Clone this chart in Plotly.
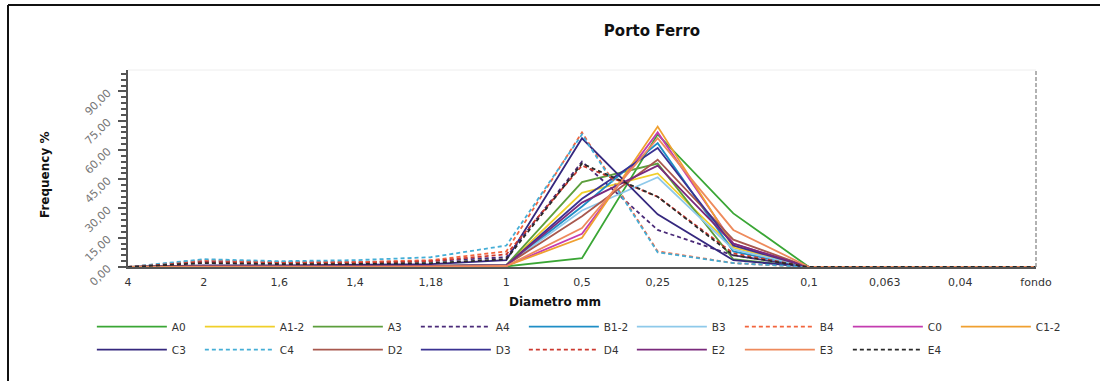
import plotly.graph_objects as go

categories = ["4", "2", "1,6", "1,4", "1,18", "1", "0,5", "0,25", "0,125", "0,1", "0,063", "0,04", "fondo"]

series_names = ["A0", "A1-2", "A3", "A4", "B1-2", "B3", "B4", "C0", "C1-2",
                "C3", "C4", "D2", "D3", "D4", "E2", "E3", "E4"]

A0   = [0, 0.2, 0.2, 0.2, 0.2, 0.3, 4.5, 68, 27.5, 0, 0, 0, 0]
A1_2 = [0, 0.5, 0.5, 0.5, 0.6, 1.0, 38, 48, 10, 0, 0, 0, 0]
A3   = [0, 0.5, 0.5, 0.5, 0.6, 1.0, 43.5, 53, 4, 0, 0, 0, 0]
A4   = [0, 3.0, 2.5, 2.5, 3.0, 5.0, 54, 19, 6, 0, 0, 0, 0]
B1_2 = [0, 0.3, 0.3, 0.3, 0.4, 0.8, 31, 63.5, 8, 0, 0, 0, 0]
B3   = [0, 0.5, 0.5, 0.5, 0.6, 1.0, 29, 46, 9, 0, 0, 0, 0]
B4   = [0, 3.5, 2.5, 2.5, 3.5, 8.0, 69, 8, 2, 0, 0, 0, 0]
C0   = [0, 0.3, 0.3, 0.3, 0.3, 0.5, 17, 69, 12, 0, 0, 0, 0]
C1_2 = [0, 0.2, 0.2, 0.2, 0.3, 0.5, 15, 72, 11, 0, 0, 0, 0]
C3   = [0, 0.8, 0.8, 1.0, 1.5, 3.5, 66, 27, 3.5, 0, 0, 0, 0]
C4   = [0, 4.0, 3.0, 3.5, 5.0, 11, 68, 7.5, 2, 0, 0, 0, 0]
D2   = [0, 0.5, 0.5, 0.5, 0.6, 1.0, 26, 55, 14, 0, 0, 0, 0]
D3   = [0, 0.3, 0.3, 0.3, 0.4, 0.8, 35, 61, 11, 0, 0, 0, 0]
D4   = [0, 2.5, 2.0, 2.0, 3.0, 6.5, 52, 36, 7, 0, 0, 0, 0]
E2   = [0, 0.3, 0.3, 0.3, 0.4, 0.8, 33, 52, 12, 0, 0, 0, 0]
E3   = [0, 0.2, 0.2, 0.2, 0.3, 0.5, 20, 66, 19, 0, 0, 0, 0]
E4   = [0, 2.0, 1.5, 1.5, 2.0, 4.0, 53, 36, 6, 0, 0, 0, 0]

series_values = [A0, A1_2, A3, A4, B1_2, B3, B4, C0, C1_2, C3, C4, D2, D3, D4, E2, E3, E4]

colors = ["#3aa635", "#f0cf2a", "#5c9e3c", "#4a2a78", "#1f8ec6", "#8ec9ea", "#f2643c",
          "#c43cb0", "#f0a030", "#35287e", "#45aed6", "#a8584e", "#3a3292", "#cc3a30",
          "#7a2a7c", "#ee8a5c", "#2a2a2a"]
dashes = ["solid", "solid", "solid", "dash", "solid", "solid", "dash", "solid", "solid",
          "solid", "dash", "solid", "solid", "dash", "solid", "solid", "dash"]

fig = go.Figure()
for i, (name, vals, col, dsh) in enumerate(zip(series_names, series_values, colors, dashes)):
    fig.add_trace(go.Scatter(
        x=categories, y=vals, name=name, mode="lines",
        legend=("legend" if i < 9 else "legend2"),
        line=dict(color=col, width=1.8, dash=("4px,3px" if dsh == "dash" else "solid")),
    ))

font_family = "DejaVu Sans, Verdana, sans-serif"

leg_common = dict(orientation="h", xanchor="left", yanchor="top",
                  itemwidth=70, entrywidth=23, font=dict(size=10.5, color="#333"),
                  bgcolor="rgba(0,0,0,0)")

fig.update_layout(
    width=1100, height=381,
    margin=dict(l=128, r=64, t=70, b=114),
    paper_bgcolor="white", plot_bgcolor="white",
    separators=",.",
    font=dict(family=font_family, size=11, color="#333"),
    title=dict(text="<b>Porto Ferro</b>", x=652 / 1100, xanchor="center",
               y=1 - 31 / 381, yanchor="middle", xref="container", yref="container",
               font=dict(size=15, color="#111", family=font_family)),
    showlegend=True,
    legend=dict(x=-0.0398, y=-0.2295, **leg_common),
    legend2=dict(x=-0.0398, y=-0.3463, **leg_common),
)

fig.update_xaxes(
    type="category", range=[0, 12], showgrid=False, zeroline=False,
    showline=True, linecolor="#555", linewidth=2,
    ticks="", tickfont=dict(size=11, color="#333"), ticklabelstandoff=4,
)
fig.update_yaxes(
    range=[0, 101], dtick=15, tick0=0, tickformat=".2f", tickangle=-45,
    showgrid=False, zeroline=False, showline=True, linecolor="#555", linewidth=2,
    ticks="outside", ticklen=8, tickwidth=2, tickcolor="#555",
    minor=dict(dtick=3, ticks="outside", ticklen=5, tickwidth=1.5, tickcolor="#555"),
    tickfont=dict(size=11, color="#777"), ticklabelstandoff=8,
)

# axis titles
fig.add_annotation(text="<b>Diametro mm</b>", x=(555 - 128) / 908, y=(267 - 302) / 197,
                   xref="paper", yref="paper", xanchor="center", yanchor="middle",
                   showarrow=False, font=dict(size=12, color="#111"))
fig.add_annotation(text="<b>Frequency %</b>", x=(45 - 128) / 908, y=(267 - 175) / 197,
                   xref="paper", yref="paper", xanchor="center", yanchor="middle",
                   textangle=-90, showarrow=False, font=dict(size=12, color="#111"))

# plot frame details
fig.add_shape(type="line", xref="paper", yref="paper", x0=1, x1=1, y0=0, y1=1,
              line=dict(color="#999", width=1.5, dash="4px,2px"))
fig.add_shape(type="line", xref="paper", yref="paper", x0=0, x1=1, y0=1, y1=1,
              line=dict(color="#eeeeee", width=1))
# outer frame
fig.add_shape(type="line", xref="paper", yref="paper", x0=(8 - 128) / 908, x1=(1100 - 128) / 908,
              y0=(267 - 5) / 197, y1=(267 - 5) / 197, line=dict(color="#111", width=2))
fig.add_shape(type="line", xref="paper", yref="paper", x0=(8 - 128) / 908, x1=(8 - 128) / 908,
              y0=(267 - 5) / 197, y1=(267 - 381) / 197, line=dict(color="#111", width=2))

fig.write_html("out.html", config={"displayModeBar": False},
               post_script="document.body.style.margin='0';")
